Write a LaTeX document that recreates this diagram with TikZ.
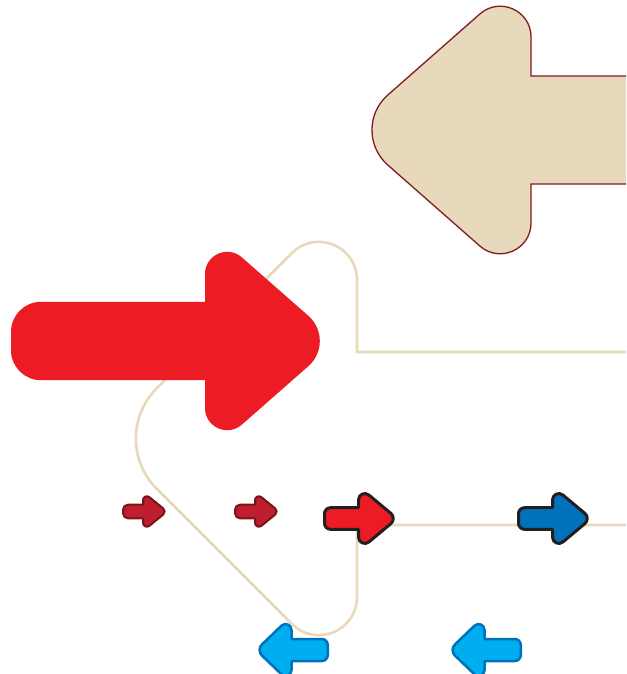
\documentclass[tikz,border=0pt]{standalone}
\definecolor{tanc}{RGB}{232,216,188}
\definecolor{tanedge}{RGB}{128,28,32}
\definecolor{redc}{RGB}{237,28,36}
\definecolor{dred}{RGB}{190,30,45}
\definecolor{dredge}{RGB}{122,20,24}
\definecolor{darkc}{RGB}{35,31,32}
\definecolor{bluec}{RGB}{0,114,188}
\definecolor{cyanc}{RGB}{0,174,239}
% arrow: #1 style, #2 tail x, #3 head base x, #4 tip vertex x, #5 centre y,
% #6 shaft half height, #7 head half height, #8 tip cut, #9 head corner cut; tail radius \arwTail
\newcommand\arwTail{0}
\newcommand\arw[9]{%
 \pgfmathsetmacro\arwS{(#4-#3)/abs(#4-#3)}%
 \pgfmathsetmacro\arwL{100*sqrt(((#4-#3)/100)*((#4-#3)/100)+((#7)/100)*((#7)/100))}%
 \pgfmathsetmacro\arwUx{(#4-#3)/\arwL}%
 \pgfmathsetmacro\arwUy{(#7)/\arwL}%
 \pgfmathsetmacro\arwPc{180-acos(\arwUy)}%
 \pgfmathsetmacro\arwKc{1-4/3*tan(\arwPc/4)/tan(\arwPc/2)}%
 \pgfmathsetmacro\arwPt{180-acos(\arwUx*\arwUx-\arwUy*\arwUy)}%
 \pgfmathsetmacro\arwKt{1-4/3*tan(\arwPt/4)/tan(\arwPt/2)}%
 \pgfmathsetmacro\arwKs{1-0.5523}%
 \path[#1] (#3,#5-#6) -- (#3,#5-#7+#9)
   .. controls (#3,#5-#7+\arwKc*#9) and (#3+\arwKc*#9*\arwUx,#5-#7+\arwKc*#9*\arwUy) .. (#3+#9*\arwUx,#5-#7+#9*\arwUy)
   -- (#4-#8*\arwUx,#5-#8*\arwUy)
   .. controls (#4-\arwKt*#8*\arwUx,#5-\arwKt*#8*\arwUy) and (#4-\arwKt*#8*\arwUx,#5+\arwKt*#8*\arwUy) .. (#4-#8*\arwUx,#5+#8*\arwUy)
   -- (#3+#9*\arwUx,#5+#7-#9*\arwUy)
   .. controls (#3+\arwKc*#9*\arwUx,#5+#7-\arwKc*#9*\arwUy) and (#3,#5+#7-\arwKc*#9) .. (#3,#5+#7-#9)
   -- (#3,#5+#6)
   -- (#2+\arwS*\arwTail,#5+#6)
   .. controls (#2+\arwS*\arwKs*\arwTail,#5+#6) and (#2,#5+#6-\arwKs*\arwTail) .. (#2,#5+#6-\arwTail)
   -- (#2,#5-#6+\arwTail)
   .. controls (#2,#5-#6+\arwKs*\arwTail) and (#2+\arwS*\arwKs*\arwTail,#5-#6) .. (#2+\arwS*\arwTail,#5-#6)
   -- cycle;
}
\tikzset{
  tanbody/.style={fill=tanc, draw=tanedge, line width=1.3pt},
  tanline/.style={draw=tanc, line width=2.6pt},
  bigred/.style={fill=redc},
  smalldark/.style={fill=dred, draw=dredge, line width=2pt, line join=round},
  smallred/.style={fill=redc, draw=darkc, line width=3pt, line join=round},
  smallblue/.style={fill=bluec, draw=darkc, line width=3pt, line join=round},
  smallcyan/.style={fill=cyanc, draw=bluec, line width=2.5pt, line join=round}
}
\begin{document}
\begin{tikzpicture}[x=1pt,y=-1pt]
\useasboundingbox (0,0) rectangle (626,674);
\fill[white] (0,0) rectangle (626,674);
\clip (0,0) rectangle (626,674);
% large tan arrow (left)
\renewcommand\arwTail{0}
\arw{tanbody}{720}{531}{348}{130}{54}{161}{53}{68}
% tan outline arrow (left)
\arw{tanline}{720}{357}{106.5}{438.5}{86.5}{250.5}{71}{92}
% big red arrow (right)
\renewcommand\arwTail{30}
\arw{bigred}{11}{205}{337}{341}{39.2}{116}{38}{49}
% small dark red arrows
\renewcommand\arwTail{5}
\arw{smalldark}{123}{143}{167}{511.5}{6.8}{19.5}{5}{8.2}
\arw{smalldark}{235}{255}{279}{511.5}{6.8}{19.5}{5}{8.2}
% red and blue arrows with dark outline
\renewcommand\arwTail{6}
\arw{smallred}{324.5}{358.5}{397}{518.5}{10.8}{32.2}{8}{13.6}
\arw{smallblue}{518.5}{552.5}{591}{518.5}{10.8}{32.2}{8}{13.6}
% cyan arrows (left)
\arw{smallcyan}{327.8}{291.5}{256.2}{650}{11}{34}{8}{14}
\arw{smallcyan}{520.8}{484.5}{449.2}{650}{11}{34}{8}{14}
\end{tikzpicture}
\end{document}
